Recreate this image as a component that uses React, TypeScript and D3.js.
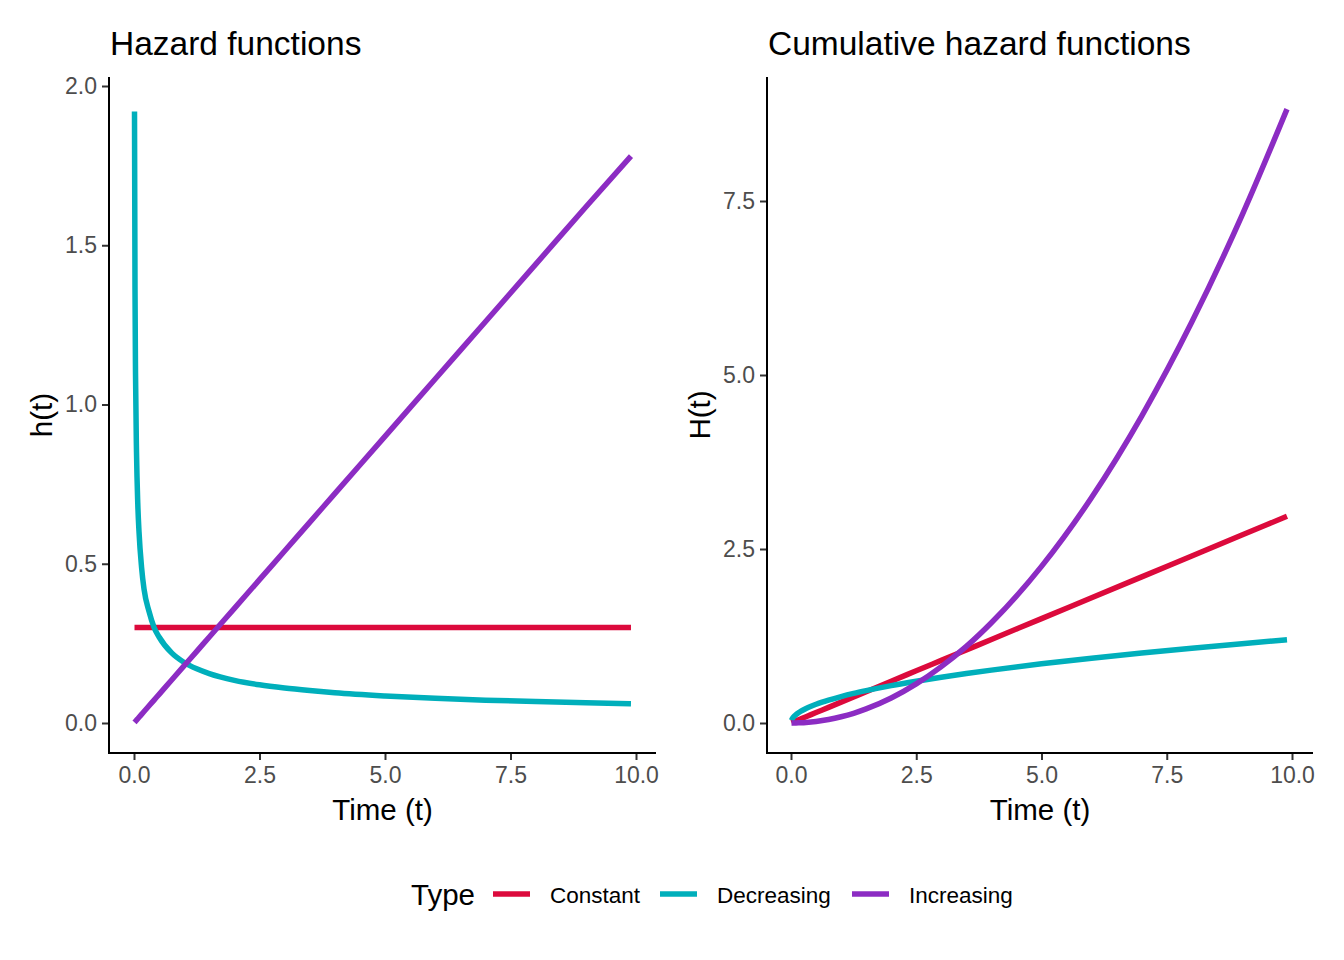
import React, { useRef, useEffect } from "react";
import * as d3 from "d3";

// time grid the curves were read at
const times = [
  0.01, 0.02, 0.03, 0.05, 0.075, 0.1, 0.15, 0.2, 0.3, 0.4, 0.5, 0.75, 1, 1.25,
  1.5, 2, 2.5, 3, 3.5, 4, 5, 6, 7, 8, 9, 9.9,
];

// hazard h(t)
const hazConstant = times.map(() => 0.3);
const hazDecreasing = [
  1.92, 1.36, 1.1, 0.85, 0.69, 0.6, 0.49, 0.42, 0.35, 0.3, 0.27, 0.22, 0.19,
  0.17, 0.155, 0.134, 0.12, 0.11, 0.102, 0.095, 0.085, 0.0776, 0.0718, 0.0672,
  0.0633, 0.0604,
];
const hazIncreasing = [
  0.0018, 0.0036, 0.0054, 0.009, 0.0135, 0.018, 0.027, 0.036, 0.054, 0.072,
  0.09, 0.135, 0.18, 0.225, 0.27, 0.36, 0.45, 0.54, 0.63, 0.72, 0.9, 1.08,
  1.26, 1.44, 1.62, 1.78,
];

// cumulative hazard H(t)
const cumConstant = [
  0.003, 0.006, 0.009, 0.015, 0.0225, 0.03, 0.045, 0.06, 0.09, 0.12, 0.15,
  0.225, 0.3, 0.375, 0.45, 0.6, 0.75, 0.9, 1.05, 1.2, 1.5, 1.8, 2.1, 2.4, 2.7,
  2.97,
];
const cumDecreasing = [
  0.038, 0.054, 0.066, 0.085, 0.104, 0.12, 0.147, 0.17, 0.208, 0.24, 0.269,
  0.329, 0.38, 0.425, 0.465, 0.537, 0.6, 0.658, 0.711, 0.76, 0.85, 0.93, 1.005,
  1.075, 1.14, 1.196,
];
const cumIncreasing = [
  0.00001, 0.00004, 0.0001, 0.0002, 0.0005, 0.0009, 0.002, 0.0036, 0.0081,
  0.0144, 0.0225, 0.0506, 0.09, 0.14, 0.2025, 0.36, 0.5625, 0.81, 1.1, 1.44,
  2.25, 3.24, 4.41, 5.76, 7.29, 8.82,
];

const types = ["Constant", "Decreasing", "Increasing"];
const colors = ["#DC0A3C", "#00AFBB", "#8C2CC3"];
const xTicks = [0, 2.5, 5, 7.5, 10];
const hTicks = [0, 0.5, 1, 1.5, 2];
const HTicks = [0, 2.5, 5, 7.5];

const FONT = "'Liberation Sans', Arial, sans-serif";

const App = () => {
  const svgRef = useRef(null);

  useEffect(() => {
    const svg = d3.select(svgRef.current);
    svg.selectAll("*").remove();

    const panels = [
      {
        title: "Hazard functions",
        ylab: "h(t)",
        series: [hazConstant, hazDecreasing, hazIncreasing],
        yTicks: hTicks,
        x: d3.scaleLinear().domain([0, 10]).range([134, 636]),
        y: d3.scaleLinear().domain([0, 2]).range([723, 86]),
        left: 109,
        right: 656,
        ylabX: 52,
      },
      {
        title: "Cumulative hazard functions",
        ylab: "H(t)",
        series: [cumConstant, cumDecreasing, cumIncreasing],
        yTicks: HTicks,
        x: d3.scaleLinear().domain([0, 10]).range([791, 1292]),
        y: d3.scaleLinear().domain([0, 7.5]).range([723, 201]),
        left: 767,
        right: 1313,
        ylabX: 710,
      },
    ];
    const top = 77;
    const bottom = 753;

    panels.forEach((p) => {
      const g = svg.append("g");

      // curves
      p.series.forEach((vals, i) => {
        const line = d3
          .line<number>()
          .x((_, k) => p.x(times[k]))
          .y((v) => p.y(v))
          .curve(d3.curveMonotoneX);
        g.append("path")
          .attr("d", line(vals))
          .attr("fill", "none")
          .attr("stroke", colors[i])
          .attr("stroke-width", 5.5);
      });

      // x axis
      const xa = g
        .append("g")
        .attr("transform", `translate(0,${bottom})`)
        .call(
          d3
            .axisBottom(p.x)
            .tickValues(xTicks)
            .tickFormat(d3.format(".1f"))
            .tickSize(7)
            .tickPadding(7),
        );
      xa.select(".domain").remove();
      xa.selectAll("line").attr("stroke", "#333333").attr("stroke-width", 2);
      xa.selectAll("text")
        .attr("fill", "#4D4D4D")
        .style("font-size", "23px")
        .style("font-family", FONT);

      // y axis
      const ya = g
        .append("g")
        .attr("transform", `translate(${p.left},0)`)
        .call(
          d3
            .axisLeft(p.y)
            .tickValues(p.yTicks)
            .tickFormat(d3.format(".1f"))
            .tickSize(7)
            .tickPadding(5),
        );
      ya.select(".domain").remove();
      ya.selectAll("line").attr("stroke", "#333333").attr("stroke-width", 2);
      ya.selectAll("text")
        .attr("fill", "#4D4D4D")
        .style("font-size", "23px")
        .style("font-family", FONT);

      // axis lines
      g.append("line")
        .attr("x1", p.left)
        .attr("x2", p.left)
        .attr("y1", top)
        .attr("y2", bottom + 1)
        .attr("stroke", "black")
        .attr("stroke-width", 2);
      g.append("line")
        .attr("x1", p.left - 1)
        .attr("x2", p.right)
        .attr("y1", bottom)
        .attr("y2", bottom)
        .attr("stroke", "black")
        .attr("stroke-width", 2);

      // titles
      g.append("text")
        .attr("x", p.left + 1)
        .attr("y", 55)
        .style("font-family", FONT)
        .style("font-size", "33.5px")
        .text(p.title);
      g.append("text")
        .attr("x", (p.left + p.right) / 2)
        .attr("y", 820)
        .attr("text-anchor", "middle")
        .style("font-family", FONT)
        .style("font-size", "29.5px")
        .text("Time (t)");
      g.append("text")
        .attr("transform", `translate(${p.ylabX},${(top + bottom) / 2}) rotate(-90)`)
        .attr("text-anchor", "middle")
        .style("font-family", FONT)
        .style("font-size", "29.5px")
        .text(p.ylab);
    });

    // legend
    const lg = svg.append("g");
    lg.append("text")
      .attr("x", 411)
      .attr("y", 905)
      .style("font-family", FONT)
      .style("font-size", "29.5px")
      .text("Type");
    const keyX = [493, 660, 852];
    types.forEach((t, i) => {
      lg.append("line")
        .attr("x1", keyX[i])
        .attr("x2", keyX[i] + 37)
        .attr("y1", 894)
        .attr("y2", 894)
        .attr("stroke", colors[i])
        .attr("stroke-width", 5.5);
      lg.append("text")
        .attr("x", keyX[i] + 57)
        .attr("y", 903)
        .style("font-family", FONT)
        .style("font-size", "22.5px")
        .text(t);
    });
  }, []);

  return (
    <svg
      ref={svgRef}
      width={1344}
      height={960}
      style={{ position: "absolute", left: 0, top: 0, background: "white" }}
    />
  );
};

export default App;
